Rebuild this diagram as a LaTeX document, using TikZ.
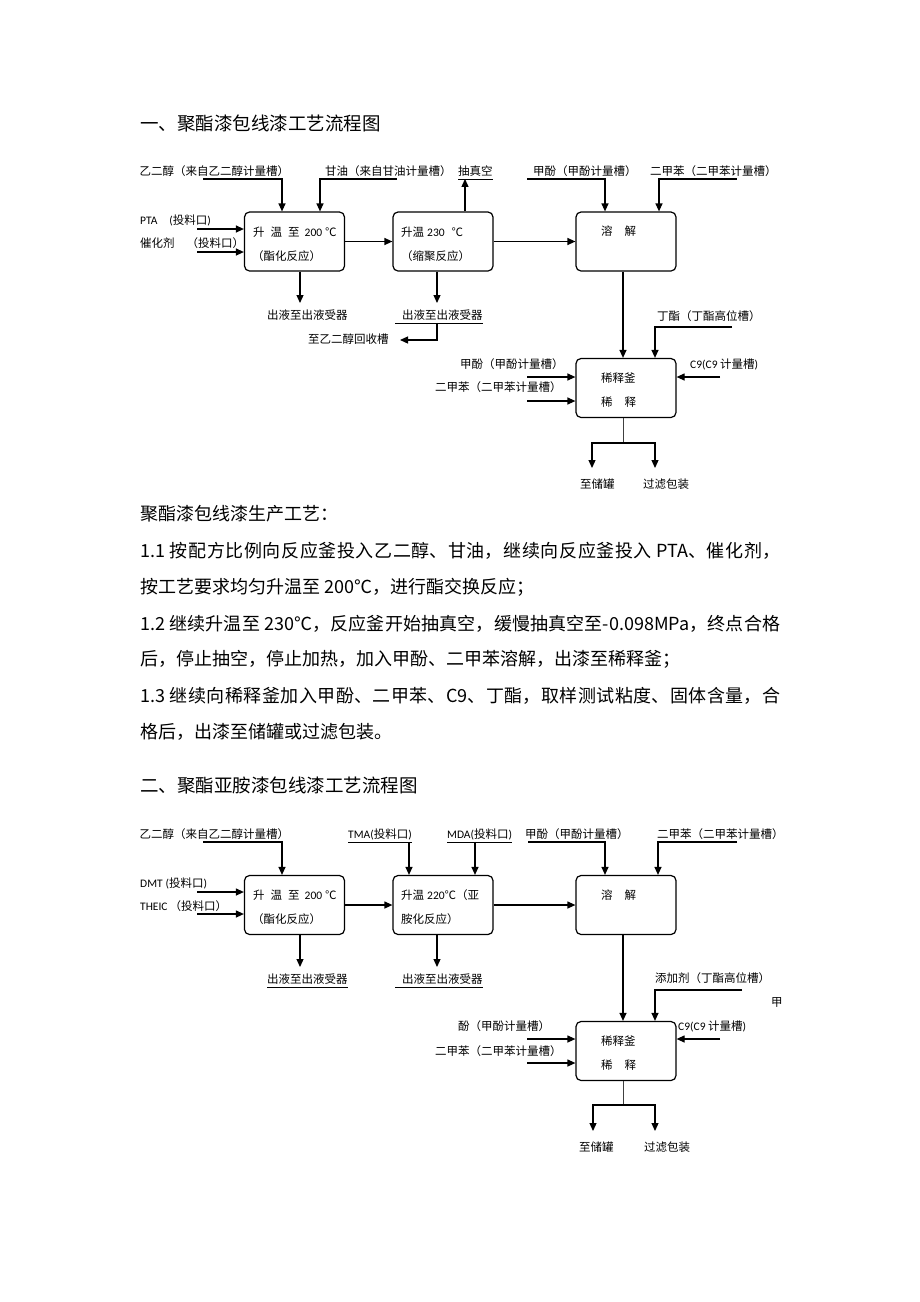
\documentclass[tikz,border=0pt]{standalone}
\usepackage{fontspec}
\setmainfont{Noto Sans CJK SC}
\newfontfamily\latfont{Carlito}
\usetikzlibrary{arrows.meta, positioning, calc}
\XeTeXlinebreaklocale "zh"
\XeTeXlinebreakskip=0pt plus 2pt minus 0.4pt
\newcommand{\lsf}[1]{{\latfont #1}}

\begin{document}
\begin{tikzpicture}[
    x=1pt, y=-1pt,
    proc/.style={rectangle, rounded corners=5pt, draw, line width=1.2pt, minimum width=100pt, minimum height=59pt, inner sep=0pt},
    boxtxt/.style={anchor=west, inner sep=0pt, font=\fontsize{11.5}{13}\selectfont, text height=9.2pt, text depth=2.3pt},
    lbl/.style={anchor=west, inner xsep=0pt, inner ysep=1pt, font=\fontsize{11.5}{13}\selectfont, text height=9.2pt, text depth=2.3pt},
    para/.style={anchor=west, inner sep=0pt, font=\fontsize{18}{18}\selectfont, text height=14.4pt, text depth=3.6pt},
    fullline/.style={para, text width=640pt, align=justify},
    heading/.style={para, font=\fontsize{18.5}{18.5}\selectfont},
    flow/.style={-{Triangle[length=8pt,width=7pt]}, line width=1.2pt},
    stub/.style={line width=0.8pt, black!75},
    uline/.style={line width=0.5pt}
]

\fill [white] (0,0) rectangle (920,1302);
\useasboundingbox (0,0) rectangle (920,1302);

%%%%%%%%%% Part one: polyester enamel %%%%%%%%%%
\node (title_a) [heading] at (140,125) {一、聚酯漆包线漆工艺流程图};

% Reactors
\node (esterify_a) [proc] at (294.5,241.5) {};
\node (polycond_a) [proc] at (443,241.5) {};
\node (dissolve_a) [proc] at (626,241.5) {};
\node (dilute_a) [proc] at (626,388) {};

\node (esterify_a_t1) [boxtxt] at (253,233) {升\hspace{6pt}温\hspace{6pt}至\hspace{5pt}\lsf{200}\hspace{3pt}℃};
\node (esterify_a_t2) [boxtxt] at (252,257) {（酯化反应）};
\node (polycond_a_t1) [boxtxt] at (401,233) {升温\hspace{3pt}\lsf{230}\hspace{7pt}℃};
\node (polycond_a_t2) [boxtxt] at (401,257) {（缩聚反应）};
\node (dissolve_a_t1) [boxtxt] at (601,232) {溶\hspace{12pt}解};
\node (dilute_a_t1) [boxtxt] at (601,379) {稀释釜};
\node (dilute_a_t2) [boxtxt] at (601,403) {稀\hspace{12pt}释};

% Feeds and outlets
\node (eg_a_lbl) [lbl] at (139.5,172) {乙二醇（来自乙二醇计量槽）};
\node (glyc_a_lbl) [lbl] at (325,172) {甘油（来自甘油计量槽）};
\node (vac_a_lbl) [lbl] at (458,172) {抽真空};
\node (pta_a_lbl) [lbl] at (140,221) {\lsf{PTA\hspace{12pt}(}投料口\lsf{)}};
\node (cat_a_lbl) [lbl] at (140,244) {催化剂\hspace{12pt}（投料口）};
\node (meth_a_lbl) [lbl] at (533,172) {甲酚（甲酚计量槽）};
\node (xyl_a_lbl) [lbl] at (650,172) {二甲苯（二甲苯计量槽）};
\node (out_a1_lbl) [lbl] at (267,316) {出液至出液受器};
\node (out_a2_lbl) [lbl] at (395,316) {\hspace{7pt}出液至出液受器};
\node (rec_a_lbl) [lbl] at (308,340) {至乙二醇回收槽};
\node (butyl_a_lbl) [lbl] at (657,317) {丁酯（丁酯高位槽）};
\node (meth_a2_lbl) [lbl] at (460,365) {甲酚（甲酚计量槽）};
\node (xyl_a2_lbl) [lbl] at (435,388) {二甲苯（二甲苯计量槽）};
\node (c9_a_lbl) [lbl] at (690,365) {\lsf{C9(C9} 计量槽\lsf{)}};
\node (store_a_lbl) [lbl] at (580,485) {至储罐};
\node (filt_a_lbl) [lbl] at (643,485) {过滤包装};

\draw [uline] (vac_a_lbl.south west) -- (vac_a_lbl.south east);
\draw [uline] (out_a2_lbl.south west) -- (out_a2_lbl.south east);

\coordinate (eg_a_in) at (203,179);
\coordinate (glyc_a_in) at (397,179);
\coordinate (pta_a_in) at (197,229);
\coordinate (cat_a_in) at (197,252);
\coordinate (meth_a_in) at (527,179);
\coordinate (xyl_a_in) at (737,179);
\coordinate (out_a1_end) at (300,303);
\coordinate (out_a2_end) at (437,303);
\coordinate (rec_a_end) at (400,340);
\coordinate (butyl_a_in) at (732,327);
\coordinate (meth_a2_in) at (527,377);
\coordinate (xyl_a2_in) at (527,401);
\coordinate (c9_a_in) at (720,377);
\coordinate (split_a) at (623,443);
\coordinate (store_a_end) at (592,468);
\coordinate (filt_a_end) at (655,468);

\draw [flow] (eg_a_in) -| ([xshift=-12.5pt]esterify_a.north);
\draw [flow] (glyc_a_in) -| ([xshift=25.5pt]esterify_a.north);
\draw [flow] (pta_a_in) -- (pta_a_in -| esterify_a.west);
\draw [flow] (cat_a_in) -- (cat_a_in -| esterify_a.west);
\draw [flow] ([xshift=22pt]polycond_a.north) -- ([xshift=22pt]polycond_a.north |- vac_a_lbl.south);
\draw [flow] (esterify_a) -- (polycond_a);
\draw [flow] (polycond_a) -- (dissolve_a);
\draw [flow] (out_a1_end |- esterify_a.south) -- (out_a1_end);
\draw [flow] (out_a2_end |- polycond_a.south) -- (out_a2_end);
\draw [flow] (out_a2_end |- out_a2_lbl.south) |- (rec_a_end);
\draw [flow] (meth_a_in) -| ([xshift=-21pt]dissolve_a.north);
\draw [flow] (xyl_a_in) -| ([xshift=33pt]dissolve_a.north);
\draw [flow] ([xshift=-3pt]dissolve_a.south) -- ([xshift=-3pt]dilute_a.north);
\draw [flow] (butyl_a_in) -| ([xshift=29pt]dilute_a.north);
\draw [flow] (meth_a2_in) -- (meth_a2_in -| dilute_a.west);
\draw [flow] (xyl_a2_in) -- (xyl_a2_in -| dilute_a.west);
\draw [flow] (c9_a_in) -- (c9_a_in -| dilute_a.east);
\draw [stub] ([xshift=-3pt]dilute_a.south) -- (split_a);
\draw [flow] (split_a) -| (store_a_end);
\draw [flow] (split_a) -| (filt_a_end);

% Process text
\node (para_head) [para] at (140,515) {聚酯漆包线漆生产工艺：};
\node (para_11a) [fullline] at (140,552) {\noindent\parfillskip=0pt\relax 1.1 按配方比例向反应釜投入乙二醇、甘油，继续向反应釜投入 PTA、催化剂，\par};
\node (para_11b) [para] at (140,588) {按工艺要求均匀升温至 200℃，进行酯交换反应；};
\node (para_12a) [fullline] at (140,625) {\noindent\parfillskip=0pt\relax 1.2 继续升温至 230℃，反应釜开始抽真空，缓慢抽真空至-0.098MPa，终点合格\par};
\node (para_12b) [para] at (140,660) {后，停止抽空，停止加热，加入甲酚、二甲苯溶解，出漆至稀释釜；};
\node (para_13a) [fullline] at (140,697) {\noindent\parfillskip=0pt\relax 1.3 继续向稀释釜加入甲酚、二甲苯、C9、丁酯，取样测试粘度、固体含量，合\par};
\node (para_13b) [para] at (140,733) {格后，出漆至储罐或过滤包装。};

%%%%%%%%%% Part two: polyesterimide enamel %%%%%%%%%%
\node (title_b) [heading] at (140,787) {二、聚酯亚胺漆包线漆工艺流程图};

% Reactors
\node (esterify_b) [proc] at (294.5,905) {};
\node (polycond_b) [proc] at (443,905) {};
\node (dissolve_b) [proc] at (626,905) {};
\node (dilute_b) [proc] at (626,1051) {};

\node (esterify_b_t1) [boxtxt] at (253,896) {升\hspace{6pt}温\hspace{6pt}至\hspace{5pt}\lsf{200}\hspace{3pt}℃};
\node (esterify_b_t2) [boxtxt] at (252,920) {（酯化反应）};
\node (polycond_b_t1) [boxtxt] at (401,896) {升温\hspace{3pt}\lsf{220}℃（亚};
\node (polycond_b_t2) [boxtxt] at (401,920) {胺化反应）};
\node (dissolve_b_t1) [boxtxt] at (601,896) {溶\hspace{12pt}解};
\node (dilute_b_t1) [boxtxt] at (601,1042) {稀释釜};
\node (dilute_b_t2) [boxtxt] at (601,1066) {稀\hspace{12pt}释};

% Feeds and outlets
\node (eg_b_lbl) [lbl] at (139.5,835) {乙二醇（来自乙二醇计量槽）};
\node (tma_b_lbl) [lbl] at (348,835) {\lsf{TMA(}投料口\lsf{)}};
\node (mda_b_lbl) [lbl] at (447,835) {\lsf{MDA(}投料口\lsf{)}};
\node (meth_b_lbl) [lbl] at (525,835) {甲酚（甲酚计量槽）};
\node (xyl_b_lbl) [lbl] at (657,835) {二甲苯（二甲苯计量槽）};
\node (dmt_b_lbl) [lbl] at (140,884) {\lsf{DMT\hspace{3pt}(}投料口\lsf{)}};
\node (theic_b_lbl) [lbl] at (140,907) {\lsf{THEIC}\hspace{2pt}（投料口）};
\node (out_b1_lbl) [lbl] at (267,980) {出液至出液受器};
\node (out_b2_lbl) [lbl] at (395,980) {\hspace{7pt}出液至出液受器};
\node (butyl_b_lbl) [lbl] at (655,979) {添加剂（丁酯高位槽）};
\node (stray_b_lbl) [lbl] at (771,1003) {甲};
\node (meth_b2_lbl) [lbl] at (458,1027) {酚（甲酚计量槽）};
\node (xyl_b2_lbl) [lbl] at (435,1052) {二甲苯（二甲苯计量槽）};
\node (c9_b_lbl) [lbl] at (678,1027) {\lsf{C9(C9} 计量槽\lsf{)}};
\node (store_b_lbl) [lbl] at (579,1148) {至储罐};
\node (filt_b_lbl) [lbl] at (644,1148) {过滤包装};

\draw [uline] (tma_b_lbl.south west) -- (tma_b_lbl.south east);
\draw [uline] (mda_b_lbl.south west) -- (mda_b_lbl.south east);
\draw [uline] (out_b1_lbl.south west) -- (out_b1_lbl.south east);
\draw [uline] (out_b2_lbl.south west) -- (out_b2_lbl.south east);

\coordinate (eg_b_in) at (203,842);
\coordinate (dmt_b_in) at (197,892);
\coordinate (theic_b_in) at (197,914);
\coordinate (meth_b_in) at (528,842);
\coordinate (xyl_b_in) at (737,842);
\coordinate (out_b1_end) at (300,967);
\coordinate (out_b2_end) at (437,967);
\coordinate (butyl_b_in) at (742,990);
\coordinate (meth_b2_in) at (527,1039);
\coordinate (xyl_b2_in) at (527,1063);
\coordinate (c9_b_in) at (720,1039);
\coordinate (split_b) at (623,1105);
\coordinate (store_b_end) at (593,1131);
\coordinate (filt_b_end) at (655,1131);

\draw [flow] (eg_b_in) -| ([xshift=-12.5pt]esterify_b.north);
\draw [flow] ([xshift=-34pt]polycond_b.north |- tma_b_lbl.south) -- ([xshift=-34pt]polycond_b.north);
\draw [flow] ([xshift=32pt]polycond_b.north |- mda_b_lbl.south) -- ([xshift=32pt]polycond_b.north);
\draw [flow] (dmt_b_in) -- (dmt_b_in -| esterify_b.west);
\draw [flow] (theic_b_in) -- (theic_b_in -| esterify_b.west);
\draw [flow] (esterify_b) -- (polycond_b);
\draw [flow] (polycond_b) -- (dissolve_b);
\draw [flow] (out_b1_end |- esterify_b.south) -- (out_b1_end);
\draw [flow] (out_b2_end |- polycond_b.south) -- (out_b2_end);
\draw [flow] (meth_b_in) -| ([xshift=-21pt]dissolve_b.north);
\draw [flow] (xyl_b_in) -| ([xshift=32pt]dissolve_b.north);
\draw [flow] ([xshift=-3pt]dissolve_b.south) -- ([xshift=-3pt]dilute_b.north);
\draw [flow] (butyl_b_in) -| ([xshift=29pt]dilute_b.north);
\draw [flow] (meth_b2_in) -- (meth_b2_in -| dilute_b.west);
\draw [flow] (xyl_b2_in) -- (xyl_b2_in -| dilute_b.west);
\draw [flow] (c9_b_in) -- (c9_b_in -| dilute_b.east);
\draw [stub] ([xshift=-3pt]dilute_b.south) -- (split_b);
\draw [flow] (split_b) -| (store_b_end);
\draw [flow] (split_b) -| (filt_b_end);

\end{tikzpicture}
\end{document}
